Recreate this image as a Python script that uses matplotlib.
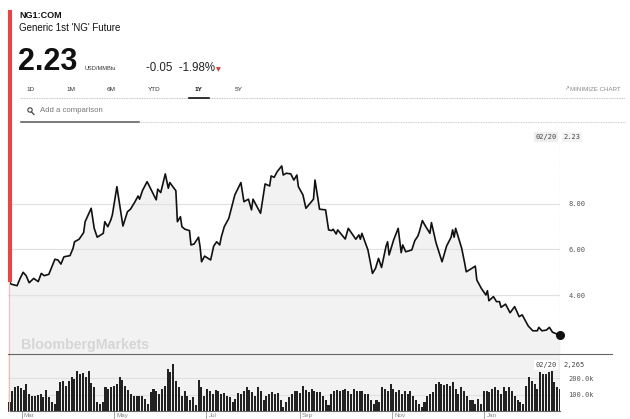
import matplotlib
matplotlib.use("Agg")
import matplotlib.pyplot as plt
import matplotlib.transforms as mtransforms
from matplotlib.patches import Rectangle, Circle
from matplotlib.lines import Line2D
import numpy as np
import pandas as pd

# price path (NG1:COM, 1Y view)
price_dates = ["2022-02-21","2022-02-22","2022-02-26","2022-02-28","2022-03-02","2022-03-04","2022-03-06","2022-03-09","2022-03-12","2022-03-14",
               "2022-03-16","2022-03-19","2022-03-23","2022-03-25","2022-03-27","2022-03-29","2022-04-02","2022-04-04","2022-04-05","2022-04-08",
               "2022-04-11","2022-04-12","2022-04-16","2022-04-18","2022-04-20","2022-04-24","2022-04-25","2022-04-27","2022-04-29","2022-04-30",
               "2022-05-03","2022-05-05","2022-05-07","2022-05-10","2022-05-12","2022-05-15","2022-05-17","2022-05-18","2022-05-20","2022-05-23",
               "2022-05-29","2022-05-30","2022-06-01","2022-06-04","2022-06-06","2022-06-07","2022-06-11","2022-06-12","2022-06-14","2022-06-15",
               "2022-06-17","2022-06-20","2022-06-21","2022-06-23","2022-06-26","2022-06-27","2022-06-28","2022-06-30","2022-07-04","2022-07-06",
               "2022-07-08","2022-07-10","2022-07-11","2022-07-13","2022-07-16","2022-07-18","2022-07-20","2022-07-24","2022-07-26","2022-07-29",
               "2022-07-31","2022-08-01","2022-08-06","2022-08-09","2022-08-12","2022-08-13","2022-08-15","2022-08-17","2022-08-20","2022-08-21",
               "2022-08-23","2022-08-26","2022-08-28","2022-08-30","2022-08-31","2022-09-03","2022-09-05","2022-09-10","2022-09-11","2022-09-14",
               "2022-09-18","2022-09-20","2022-09-22","2022-09-23","2022-09-25","2022-09-26","2022-10-01","2022-10-03","2022-10-08","2022-10-10",
               "2022-10-11","2022-10-12","2022-10-16","2022-10-19","2022-10-21","2022-10-23","2022-10-25","2022-10-28","2022-10-29","2022-10-30",
               "2022-11-02","2022-11-05","2022-11-07","2022-11-08","2022-11-10","2022-11-14","2022-11-16","2022-11-18","2022-11-19","2022-11-21",
               "2022-11-23","2022-11-26","2022-11-27","2022-11-30","2022-12-04","2022-12-07","2022-12-10","2022-12-11","2022-12-12","2022-12-13",
               "2022-12-17","2022-12-19","2022-12-20","2022-12-22","2022-12-26","2022-12-27","2022-12-30","2023-01-02","2023-01-03","2023-01-04",
               "2023-01-07","2023-01-09","2023-01-11","2023-01-12","2023-01-15","2023-01-18","2023-01-21","2023-01-24","2023-01-26","2023-01-30",
               "2023-02-02","2023-02-05","2023-02-06","2023-02-08","2023-02-11","2023-02-13","2023-02-15","2023-02-20"]
prices = [4.59,4.48,4.41,4.73,5.00,4.85,4.54,4.73,4.59,4.95,
          4.85,4.91,5.57,5.54,5.36,5.68,5.73,6.05,6.34,6.45,
          6.74,7.22,7.81,6.93,6.54,6.71,7.22,7.00,7.30,7.52,
          8.76,7.88,7.03,7.66,7.77,8.10,8.35,8.21,8.60,8.98,
          8.18,8.65,8.50,9.32,8.69,8.94,8.58,7.22,7.44,7.00,
          6.89,6.83,6.20,6.24,6.54,6.12,5.46,5.71,5.54,6.15,
          6.34,6.20,6.54,7.00,7.37,7.88,8.40,8.94,8.10,8.21,
          7.74,8.21,7.59,8.88,8.79,9.23,9.17,9.42,9.67,9.27,
          9.35,9.32,9.05,9.27,8.76,8.40,7.81,8.21,9.05,7.77,
          7.74,6.86,6.83,6.89,6.68,6.86,6.46,6.93,6.45,6.64,
          6.45,6.71,5.98,4.95,5.17,5.61,5.21,6.15,6.34,5.76,
          6.42,6.93,5.86,6.20,5.90,5.98,6.39,6.59,6.78,7.27,
          7.03,6.71,7.18,6.30,5.46,6.15,6.54,6.86,6.54,6.93,
          6.05,5.39,5.02,5.10,5.27,4.66,4.29,4.00,4.19,3.75,
          3.93,3.71,3.71,3.46,3.60,3.22,3.49,3.05,3.13,2.64,
          2.43,2.43,2.58,2.43,2.46,2.58,2.37,2.23]

# daily volume in thousands of contracts, left to right
volume_k = [54,120,144,150,140,128,164,104,94,94,100,104,88,128,84,54,44,124,174,184,154,180,204,194,244,224,228,204,244,168,
            144,54,44,54,144,134,144,154,164,208,188,154,128,104,94,94,94,94,74,44,114,134,124,104,134,154,254,234,284,184,
            144,94,124,94,64,84,34,188,144,94,134,124,104,128,124,104,108,94,84,54,74,108,104,124,144,128,114,94,144,124,
            64,94,104,114,104,108,64,24,54,84,104,124,124,108,154,128,114,134,124,114,114,94,64,34,104,124,128,124,128,134,
            124,104,134,124,124,120,104,104,64,44,64,54,144,134,124,164,134,114,128,104,124,104,124,94,64,44,24,54,94,104,
            114,164,174,164,160,164,154,174,134,104,144,124,94,64,64,44,74,44,124,124,114,134,144,128,104,144,120,144,124,94,
            64,54,44,154,208,184,164,134,234,224,224,234,244,174,144,134]

price_ticks = [4, 6, 8]
vol_ticks = [100, 200]
month_starts = ["2022-03-01","2022-05-01","2022-07-01","2022-09-01","2022-11-01","2023-01-01"]
month_labels = ["Mar","May","Jul","Sep","Nov","Jan"]
tabs = ["1D","1M","6M","YTD","1Y","5Y"]
tab_x = [26, 66, 107, 148, 195, 235]

W, H = 630, 419
fig = plt.figure(figsize=(W/100, H/100), dpi=100)
fig.patch.set_facecolor("white")
px = fig.dpi_scale_trans
def P(x, y):
    return x/100, (H - y)/100

def fbox(x0, y0, x1, y1):
    return [x0/W, 1 - y1/H, (x1 - x0)/W, (y1 - y0)/H]

sans = "Liberation Sans"
mono = "DejaVu Sans Mono"

dates = pd.to_datetime(price_dates)
x0 = pd.Timestamp("2022-02-20")
x1 = pd.Timestamp("2023-02-20")

# ---- price panel
ax = fig.add_axes(fbox(8, 127, 560, 354))
ax.set_xlim(x0, x1)
ax.set_ylim(1.41, 11.38)
ax.fill_between(dates, prices, 1.41, color="#f2f2f2", lw=0, zorder=1)
for t in price_ticks:
    ax.axhline(t, color="#e2e2e2", lw=0.9, zorder=1.5)
ax.plot(dates, prices, color="#111111", lw=1.2, zorder=3)
ax.plot(dates[-1], prices[-1], "o", color="#111111", ms=5.5, zorder=4, clip_on=False)
ax.axvline(x1, color="#aaaaaa", lw=0.8, ls=(0, (1, 1)), zorder=2)
for s in ax.spines.values():
    s.set_visible(False)
ax.set_xticks([])
ax.yaxis.tick_right()
ax.set_yticks(price_ticks)
ax.set_yticklabels(["%.2f" % t for t in price_ticks])
ax.tick_params(axis="y", length=0, pad=6, labelsize=5, labelcolor="#555555")
for lab in ax.get_yticklabels():
    lab.set_fontfamily(mono)
ax.annotate("02/20", xy=(x1, 0.956), xycoords=("data", "axes fraction"), xytext=(-2.5, 0),
            textcoords="offset points", ha="right", va="center", fontsize=5, family=mono, color="#444444",
            bbox=dict(boxstyle="square,pad=0.25", fc="#eeeeee", ec="none"))
ax.annotate("%.2f" % prices[-1], xy=(x1, 0.956), xycoords=("data", "axes fraction"), xytext=(2.5, 0),
            textcoords="offset points", ha="left", va="center", fontsize=5, family=mono, color="#444444",
            bbox=dict(boxstyle="square,pad=0.25", fc="#f4f4f4", ec="none"))

# ---- volume panel
axv = fig.add_axes(fbox(8, 355, 560, 411))
axv.set_facecolor("#f2f2f2")
axv.set_xlim(x0, x1)
axv.set_ylim(0, 340)
vdates = pd.to_datetime(np.linspace(pd.Timestamp("2022-02-21").value, x1.value, len(volume_k)))
for t in vol_ticks:
    axv.axhline(t, color="#e0e0e0", lw=0.8, zorder=1)
axv.bar(vdates, volume_k, width=1.35, color="#222222", zorder=2)
axv.axvline(x1, color="#aaaaaa", lw=0.8, ls=(0, (1, 1)), zorder=3)
for k in ["top", "right", "left"]:
    axv.spines[k].set_visible(False)
axv.spines["bottom"].set_color("#666666")
axv.spines["bottom"].set_linewidth(0.8)
axv.yaxis.tick_right()
axv.set_yticks(vol_ticks)
axv.set_yticklabels(["%.1fk" % t for t in vol_ticks])
axv.tick_params(axis="y", length=0, pad=6, labelsize=5, labelcolor="#555555")
for lab in axv.get_yticklabels():
    lab.set_fontfamily(mono)
axv.set_xticks(pd.to_datetime(month_starts))
axv.set_xticklabels([])
axv.tick_params(axis="x", direction="out", length=6, width=0.6, color="#999999")
tr = mtransforms.blended_transform_factory(axv.transData, axv.transAxes)
for d, lab in zip(pd.to_datetime(month_starts), month_labels):
    axv.text(d + pd.Timedelta(days=1.5), -0.075, lab, transform=tr, ha="left", va="center",
             fontsize=4.5, color="#888888", family=sans)
axv.annotate("02/20", xy=(x1, 0.82), xycoords=("data", "axes fraction"), xytext=(-2.5, 0),
             textcoords="offset points", ha="right", va="center", fontsize=5, family=mono, color="#444444",
             bbox=dict(boxstyle="square,pad=0.25", fc="white", ec="none"))
axv.annotate("2,265", xy=(x1, 0.82), xycoords=("data", "axes fraction"), xytext=(2.5, 0),
             textcoords="offset points", ha="left", va="center", fontsize=5, family=mono, color="#444444",
             bbox=dict(boxstyle="square,pad=0.25", fc="white", ec="none"))

# ---- header and page chrome
fig.add_artist(Rectangle(P(8.3, 282), 0.04, (282 - 10)/100, transform=px, color="#f24141", lw=0))
fig.add_artist(Line2D([0.086, 0.086], [(H - 282)/100, (H - 411)/100], transform=px, color="#f7b9b9", lw=0.8))

fig.text(*P(19, 15), "NG1:COM", transform=px, fontsize=6.5, weight="bold", family=sans, color="#111111", va="center")
fig.text(*P(19, 27.5), "Generic 1st 'NG' Future", transform=px, fontsize=7, family=sans, color="#111111", va="center")
fig.text(*P(18, 70), "2.23", transform=px, fontsize=22, weight="bold", family=sans, color="#111111", va="baseline")
fig.text(*P(85, 70), "USD/MMBtu", transform=px, fontsize=4.1, family=sans, color="#333333", va="baseline")
fig.text(*P(146, 71), "-0.05  -1.98%", transform=px, fontsize=8.3, family=sans, color="#222222", va="baseline")
fig.text(*P(216, 71), "\u25BC", transform=px, fontsize=4.5, family="DejaVu Sans", color="#e8302e", va="baseline")

for lab, tx in zip(tabs, tab_x):
    fig.text(*P(tx, 89), lab, transform=px, fontsize=4.6, family=sans, va="center",
             weight="bold" if lab == "1Y" else "normal", color="#111111" if lab == "1Y" else "#333333")
fig.add_artist(Line2D([0.20, 6.25], [(H - 97.5)/100]*2, transform=px, color="#aaaaaa", lw=0.6, ls=(0, (1, 1))))
fig.add_artist(Line2D([1.89, 2.09], [(H - 97.5)/100]*2, transform=px, color="#111111", lw=1.2))
fig.text(*P(564, 89), "\u2197", transform=px, fontsize=4, family="DejaVu Sans", color="#888888", va="center")
fig.text(*P(570, 89), "MINIMIZE CHART", transform=px, fontsize=4.4, family=sans, color="#888888", va="center")

fig.add_artist(Circle(P(30, 110), 0.022, transform=px, fill=False, ec="#444444", lw=0.8))
fig.add_artist(Line2D([0.315, 0.34], [(H - 112)/100, (H - 114.5)/100], transform=px, color="#444444", lw=0.9))
fig.text(*P(40, 110.7), "Add a comparison", transform=px, fontsize=5.6, family=sans, color="#777777", va="center")
fig.add_artist(Line2D([0.21, 1.39], [(H - 121.7)/100]*2, transform=px, color="#555555", lw=1.1))
fig.add_artist(Line2D([1.39, 6.25], [(H - 121.7)/100]*2, transform=px, color="#bbbbbb", lw=0.6, ls=(0, (1, 1))))

fig.text(*P(21, 345), "BloombergMarkets", transform=px, fontsize=10.2, weight="bold", family=sans, color="#d6d6d6", va="center")
fig.add_artist(Line2D([0.08, 6.12], [(H - 354.3)/100]*2, transform=px, color="#666666", lw=0.8))

fig.savefig("out.png", dpi=100, facecolor="white")
